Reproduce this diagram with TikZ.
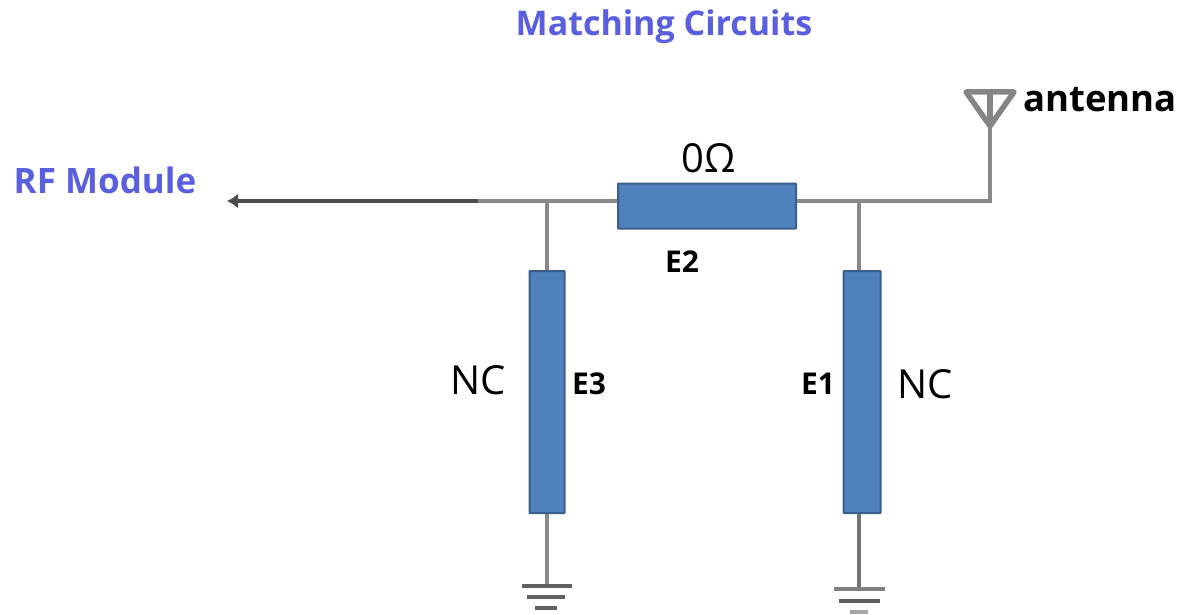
\documentclass[tikz,border=0pt]{standalone}
\usepackage{fontspec}
\setmainfont{Open Sans}
\usetikzlibrary{arrows.meta,calc}
\definecolor{resfill}{HTML}{4F81BD}
\definecolor{resedge}{HTML}{3A5F8A}
\definecolor{wiregray}{HTML}{8A8A8A}
\definecolor{anttgray}{HTML}{858585}
\definecolor{titleblue}{HTML}{5A5FE0}
\tikzset{
  resistor/.style={draw=resedge,fill=resfill,line width=2pt,inner sep=0pt,rounded corners=0.5pt},
  wire/.style={draw=wiregray,line width=3.4pt},
  mainwire/.style={draw=black!70,line width=4pt},
  gnd/.style={draw=black!62,line width=3.4pt},
  titletext/.style={text=titleblue,font=\fontsize{34}{36}\selectfont\bfseries,inner sep=0pt},
  rftext/.style={text=titleblue,font=\fontsize{35}{38}\selectfont\bfseries,inner sep=0pt},
  valtext/.style={text=black,font=\fontsize{40}{44}\selectfont,inner sep=0pt},
  reftext/.style={text=black,font=\fontsize{30}{34}\selectfont\bfseries,inner sep=0pt},
  anttext/.style={text=black,font=\fontsize{36.5}{40}\selectfont\bfseries,inner sep=0pt},
  antline/.style={draw=anttgray,line width=5.5pt,line join=round}
}
\begin{document}
\begin{tikzpicture}[x=1pt,y=-1pt]
\useasboundingbox (0,0) rectangle (1182,615);
% resistors
\node[resistor,minimum width=178pt,minimum height=45pt] (E2) at (707,206) {};
\node[resistor,minimum width=35pt,minimum height=242pt] (E3) at (547,392) {};
\node[resistor,minimum width=37pt,minimum height=242pt] (E1) at (862,392) {};
% coordinates
\coordinate (arrowtip) at (227,201);
\coordinate (thick) at (478,201);
\coordinate (j3) at (547,201);
\coordinate (j1) at (859,201);
\coordinate (e2l) at (617,201);
\coordinate (e2r) at (797,201);
\coordinate (corner) at (990,201);
\coordinate (apex) at (990,126);
\coordinate (antbase) at (990,92);
\coordinate (antl) at (966,92);
\coordinate (antr) at (1014,92);
\coordinate (g3) at (547,586);
\coordinate (g1) at (859,589);
% wires
\draw[mainwire,-{Latex[length=11pt,width=15pt]}] (thick) -- (arrowtip);
\draw[wire] (thick) -- (e2l);
\draw[wire,line width=4.2pt,line join=miter] (e2r) -- (corner) -- (apex);
\draw[wire] (j3) -- (E3.north);
\draw[wire] (j3 |- E3.south) -- (g3);
\draw[wire] (j1) -- (j1 |- E1.north);
\draw[wire,draw=black!55] (j1 |- E1.south) -- (g1);
% antenna
\draw[antline] (antl) -- (antr) -- (apex) -- cycle;
\draw[antline] (antbase) -- (apex);
% grounds
\draw[gnd] ($(g3)+(-25,0)$) -- ($(g3)+(25,0)$);
\draw[gnd,line width=3.8pt] ($(g3)+(-20,11)$) -- ($(g3)+(18,11)$);
\draw[gnd] ($(g3)+(-12,22)$) -- ($(g3)+(10,22)$);
\draw[gnd,draw=black!50] ($(g1)+(-25,0)$) -- ($(g1)+(26,0)$);
\draw[gnd,line width=3.8pt] ($(g1)+(-20,12)$) -- ($(g1)+(21,12)$);
\draw[gnd,draw=black!35] ($(g1)+(-9,23)$) -- ($(g1)+(9,23)$);
% labels
\node[titletext] (title) at (664,27) {Matching Circuits};
\node[rftext] (rf) at (105,180) {RF Module};
\node[anttext] (ant) at (1100,100) {antenna};
\node[valtext] (ohm) at (709,158) {0Ω};
\node[valtext] (nc3) at (478,380) {NC};
\node[valtext] (nc1) at (925,384) {NC};
\node[reftext] (l2) at (682,262) {E2};
\node[reftext] (l3) at (589,384) {E3};
\node[reftext] (l1) at (818,384) {E1};
\end{tikzpicture}
\end{document}
